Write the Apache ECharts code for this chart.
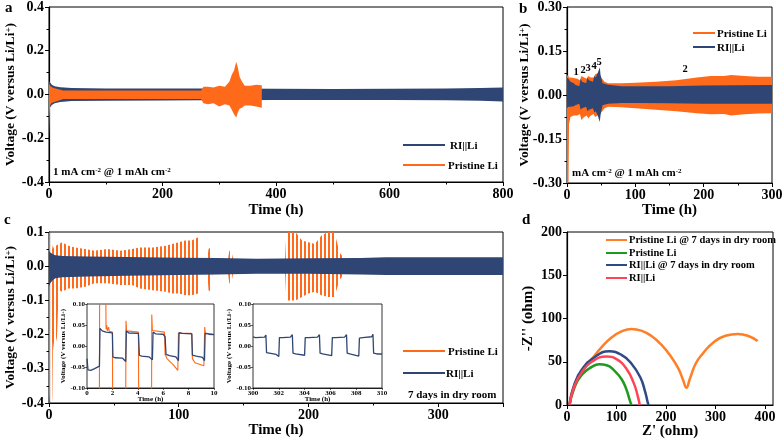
<!DOCTYPE html>
<html>
<head>
<meta charset="utf-8">
<script src="https://cdn.jsdelivr.net/npm/echarts@6/dist/echarts.min.js"></script>
<style>html,body{margin:0;padding:0;background:#fff}#main{width:784px;height:442px}</style>
</head>
<body>
<div id="main"></div>
<script>
var ORANGE = '#ff6a1a';
var NAVY = '#2f4573';
var FONT = 'Liberation Serif';

// ---- panel a : 1 mA cm-2, envelopes of the voltage trace (time h, V)
var aBlueT  = [0, 2, 5, 10, 20, 40, 100, 200, 270, 300, 400, 500, 600, 700, 760, 800];
var aBlueHi = [0.062, 0.055, 0.045, 0.038, 0.033, 0.03, 0.028, 0.028, 0.028, 0.027, 0.026, 0.025, 0.026, 0.028, 0.03, 0.032];
var aBlueLo = [-0.065, -0.058, -0.048, -0.04, -0.034, -0.03, -0.028, -0.027, -0.026, -0.026, -0.025, -0.025, -0.025, -0.026, -0.028, -0.032];
var aOrT  = [0, 1, 2, 4, 8, 15, 25, 50, 100, 200, 268, 272, 280, 290, 300, 310, 318, 322, 326, 330, 333, 336, 340, 345, 355, 365, 375];
var aOrHi = [0.05, 0.045, 0.04, 0.035, 0.03, 0.025, 0.018, 0.018, 0.018, 0.018, 0.018, 0.035, 0.035, 0.032, 0.04, 0.035, 0.06, 0.09, 0.11, 0.15, 0.12, 0.08, 0.06, 0.04, 0.04, 0.045, 0.042];
var aOrLo = [-0.2, -0.1, -0.05, -0.04, -0.035, -0.03, -0.021, -0.021, -0.021, -0.021, -0.021, -0.04, -0.045, -0.04, -0.055, -0.045, -0.05, -0.07, -0.09, -0.105, -0.08, -0.065, -0.06, -0.05, -0.05, -0.055, -0.06];

// ---- panel b
var bBlueT  = [0, 2, 5, 10, 12, 18, 20, 22, 28, 30, 32, 38, 40, 42, 45, 48, 49, 52, 60, 80, 100, 150, 200, 250, 300];
var bBlueHi = [0.06, 0.055, 0.045, 0.04, 0.035, 0.03, 0.055, 0.045, 0.04, 0.06, 0.05, 0.045, 0.065, 0.06, 0.075, 0.095, 0.07, 0.04, 0.035, 0.03, 0.03, 0.03, 0.032, 0.033, 0.034];
var bBlueLo = [-0.045, -0.04, -0.04, -0.038, -0.035, -0.03, -0.05, -0.045, -0.04, -0.055, -0.05, -0.045, -0.06, -0.055, -0.07, -0.092, -0.07, -0.035, -0.03, -0.027, -0.027, -0.028, -0.03, -0.03, -0.03];
var bOrT  = [0, 1, 2, 3, 5, 10, 15, 19, 21, 25, 29, 31, 35, 39, 41, 45, 50, 55, 60, 80, 100, 130, 160, 190, 210, 230, 240, 260, 280, 300];
var bOrHi = [0.065, 0.068, 0.065, 0.06, 0.06, 0.058, 0.055, 0.05, 0.065, 0.06, 0.055, 0.065, 0.06, 0.06, 0.07, 0.075, 0.06, 0.045, 0.04, 0.04, 0.042, 0.045, 0.05, 0.06, 0.065, 0.065, 0.068, 0.065, 0.062, 0.062];
var bOrLo = [-0.35, -0.35, -0.3, -0.1, -0.075, -0.07, -0.07, -0.065, -0.085, -0.075, -0.07, -0.08, -0.07, -0.065, -0.075, -0.07, -0.06, -0.045, -0.04, -0.042, -0.045, -0.05, -0.055, -0.062, -0.066, -0.065, -0.07, -0.066, -0.063, -0.062];

// ---- panel c : 7 days in dry room
var cBlueT  = [0, 1, 3, 5, 10, 30, 60, 100, 130, 160, 200, 240, 260, 300, 350];
var cBlueHi = [0.045, 0.04, 0.035, 0.032, 0.03, 0.028, 0.027, 0.025, 0.024, 0.022, 0.023, 0.024, 0.026, 0.026, 0.026];
var cBlueLo = [-0.06, -0.05, -0.04, -0.035, -0.032, -0.03, -0.028, -0.026, -0.024, -0.022, -0.022, -0.024, -0.026, -0.026, -0.026];
var cOrT  = [0, 0.5, 1.5, 2.5, 3, 4, 5, 6, 7, 8, 10, 15, 20, 28, 35, 45, 55, 64, 70, 80, 90, 95, 100, 105, 110, 115, 116.5, 122, 123, 124.5, 126, 138, 139, 140.5, 142, 182, 183, 190, 195, 200, 205, 210, 215, 220, 224, 228, 350];
var cOrHi = [0.15, 0.12, 0.08, 0.06, 0.05, 0.06, 0.065, 0.06, 0.065, 0.065, 0.07, 0.06, 0.055, 0.05, 0.045, 0.05, 0.045, 0.05, 0.055, 0.055, 0.06, 0.065, 0.07, 0.075, 0.075, 0.085, 0.02, 0.02, 0.05, 0.055, 0.02, 0.02, 0.045, 0.045, 0.02, 0.02, 0.12, 0.12, 0.075, 0.07, 0.065, 0.09, 0.12, 0.12, 0.04, 0.02, 0.02];
var cOrLo = [-0.45, -0.45, -0.3, -0.4, -0.22, -0.25, -0.2, -0.22, -0.12, -0.07, -0.075, -0.065, -0.065, -0.06, -0.05, -0.05, -0.055, -0.055, -0.065, -0.07, -0.075, -0.08, -0.08, -0.085, -0.085, -0.08, -0.02, -0.02, -0.07, -0.075, -0.02, -0.02, -0.05, -0.05, -0.02, -0.02, -0.1, -0.1, -0.09, -0.08, -0.075, -0.085, -0.09, -0.09, -0.04, -0.02, -0.02];

// insets of panel c (time h, V)
var in1Blue = [[0,-0.03],[0.08,-0.057],[0.3,-0.058],[0.6,-0.054],[0.98,-0.048],[1.02,0.042],[1.2,0.036],[1.5,0.033],[2.0,0.031],[2.04,-0.026],[2.2,-0.028],[2.8,-0.029],[3.05,-0.037],[3.1,0.036],[3.3,0.031],[4.05,0.03],[4.12,-0.022],[4.3,-0.024],[4.9,-0.026],[5.15,-0.033],[5.2,0.033],[5.4,0.029],[6.0,0.028],[6.15,0.022],[6.22,-0.02],[6.5,-0.023],[7.0,-0.026],[7.2,-0.035],[7.25,0.032],[7.5,0.03],[8.25,0.029],[8.3,-0.022],[8.6,-0.024],[9.1,-0.027],[9.25,-0.035],[9.3,0.03],[9.6,0.028],[10,0.027]];
var in1Orange = [[0.97,-0.2],[1.0,0.2],[1.46,0.2],[1.5,0.04],[1.55,0.05],[1.6,0.036],[1.7,0.045],[1.75,0.035],[2.0,0.033],[2.03,-0.2],[3.04,-0.2],[3.07,0.06],[3.12,0.036],[4.05,0.033],[4.08,-0.2],[5.08,-0.2],[5.1,0.075],[5.15,0.037],[6.1,0.033],[6.15,-0.02],[6.3,-0.03],[6.8,-0.045],[7.15,-0.058],[7.2,0.03],[8.25,0.03],[8.3,-0.03],[8.5,-0.04],[9.2,-0.047],[9.27,0.045],[9.32,0.031],[10,0.028]];
var in2Blue = [[300,0.022],[300.2,0.02],[300.9,0.021],[301.0,0.026],[301.05,-0.016],[301.2,-0.019],[301.8,-0.02],[302.0,-0.025],[302.05,0.02],[302.3,0.02],[302.9,0.021],[303.05,0.027],[303.1,-0.017],[303.3,-0.019],[304.0,-0.022],[304.05,0.02],[304.3,0.02],[305.0,0.021],[305.15,0.027],[305.2,-0.017],[305.4,-0.019],[306.1,-0.023],[306.15,0.02],[306.4,0.02],[307.1,0.021],[307.25,0.027],[307.3,-0.017],[307.5,-0.019],[308.2,-0.024],[308.25,0.019],[308.5,0.02],[309.2,0.022],[309.3,0.028],[309.35,-0.017],[309.6,-0.019],[310,-0.019]];

// ---- panel d : Nyquist plots (Z', -Z'')
var nyPristine7d = [[5,0],[10,15],[20,28],[35,42],[50,53],[70,67],[90,78],[110,85],[130,88],[150,86],[170,80],[190,70],[210,56],[225,42],[235,28],[241,20],[248,30],[260,48],[275,60],[295,72],[320,80],[345,82],[365,80],[385,74]];
var nyPristine = [[5,0],[15,20],[30,35],[50,44],[65,47],[80,46],[95,40],[110,30],[120,18],[127,5],[130,0]];
var nyRI7d = [[5,0],[15,24],[30,41],[55,55],[85,62],[110,58],[130,48],[148,32],[158,15],[163,3],[165,0]];
var nyRI = [[5,0],[15,22],[30,38],[50,50],[80,56],[100,53],[120,42],[135,25],[143,10],[147,0]];

// tick values
var aTimeTicks = [0, 200, 400, 600, 800];
var aVoltTicks = [-0.4, -0.2, 0, 0.2, 0.4];
var bTimeTicks = [0, 100, 200, 300];
var bVoltTicks = [-0.3, -0.15, 0, 0.15, 0.3];
var cTimeTicks = [0, 100, 200, 300];
var cVoltTicks = [-0.4, -0.3, -0.2, -0.1, 0, 0.1];
var dZreTicks = [0, 100, 200, 300, 400];
var dZimTicks = [0, 50, 100, 150, 200];
var in1TimeTicks = [0, 2, 4, 6, 8, 10];
var in2TimeTicks = [300, 302, 304, 306, 308, 310];
var inVoltTicks = [-0.1, -0.05, 0, 0.05, 0.1];

var chart = echarts.init(document.getElementById('main'));

function stripes(color) {
  var c = document.createElement('canvas');
  c.width = 4; c.height = 4;
  var g = c.getContext('2d');
  g.fillStyle = color;
  g.fillRect(0, 0, 2, 4);
  return { image: c, repeat: 'repeat' };
}

function axis(gi, ticks, o) {
  o = o || {};
  var step = +(ticks[1] - ticks[0]).toFixed(4);
  var small = o.small;
  return {
    type: 'value', gridIndex: gi,
    min: o.min != null ? o.min : ticks[0],
    max: o.max != null ? o.max : ticks[ticks.length - 1],
    interval: step,
    name: o.name || '', nameLocation: 'middle', nameGap: o.gap || 20,
    nameMoveOverlap: false,
    nameTextStyle: {
      fontFamily: FONT, fontWeight: 'bold', fontSize: small ? 7 : (o.nameSize || 15), color: '#000',
      rich: { sup: { fontFamily: FONT, fontWeight: 'bold', fontSize: small ? 5 : 9, verticalAlign: 'top', color: '#000' } }
    },
    axisLine: { show: true, onZero: false, lineStyle: { color: '#000', width: small ? 0.8 : 1.2 } },
    axisTick: { show: true, length: small ? 2 : 4, lineStyle: { color: '#000', width: small ? 0.6 : 1 } },
    minorTick: { show: !small && !o.noMinor, splitNumber: 2, length: 2.5, lineStyle: { color: '#000' } },
    splitLine: { show: false },
    axisLabel: {
      fontFamily: FONT, fontWeight: 'bold', fontSize: small ? 7 : 14, color: '#000',
      margin: small ? 2 : 5, showMaxLabel: o.hideMax ? false : null,
      formatter: o.dec != null ? function (v) { return v.toFixed(o.dec); } : null
    }
  };
}

function band(name, gi, t, hi, lo, fill, z) {
  return {
    type: 'custom', name: name, xAxisIndex: gi, yAxisIndex: gi, z: z, clip: true,
    silent: true,
    data: t.map(function (v, i) { return [v, hi[i], lo[i]]; }),
    encode: { x: 0, y: [1, 2] },
    renderItem: function (params, api) {
      if (params.dataIndex !== 0) return null;
      var cs = params.coordSys;
      var pts = [];
      var clampY = function (p) { return [p[0], Math.max(cs.y, Math.min(cs.y + cs.height, p[1]))]; };
      for (var i = 0; i < t.length; i++) pts.push(clampY(api.coord([t[i], hi[i]])));
      for (var j = t.length - 1; j >= 0; j--) pts.push(clampY(api.coord([t[j], lo[j]])));
      return { type: 'polygon', shape: { points: pts }, style: { fill: fill, stroke: null } };
    }
  };
}

function line(name, gi, data, color, w, z, smooth) {
  return {
    type: 'line', name: name, xAxisIndex: gi, yAxisIndex: gi, data: data, z: z,
    showSymbol: false, smooth: smooth || false, clip: true,
    lineStyle: { color: color, width: w }, itemStyle: { color: color }
  };
}

var vName = 'Voltage (V versus Li/Li{sup|+})';
var bold = function (s) { return 'bold ' + s + 'px "' + FONT + '"'; };

function txt(x, y, s, size, align) {
  return {
    type: 'text', x: x, y: y, z: 50,
    style: { text: s, font: bold(size), fill: '#000', textAlign: align || 'left', textVerticalAlign: 'middle', rich: { sup: { font: bold(Math.round(size * 0.65)), fill: '#000', verticalAlign: 'top' } } }
  };
}
function seg(x1, x2, y, color) {
  return { type: 'line', z: 50, shape: { x1: x1, y1: y, x2: x2, y2: y }, style: { stroke: color, lineWidth: 2 } };
}

function grid(l, t, w, h, inset) {
  return {
    left: l, top: t, width: w, height: h, show: true, borderColor: '#000',
    borderWidth: inset ? 0.8 : 1, backgroundColor: inset ? '#fff' : 'transparent',
    z: inset ? 5 : 0, outerBoundsMode: 'none', containLabel: false
  };
}

var option = {
  animation: false,
  backgroundColor: '#fff',
  grid: [
    grid(49, 7, 454, 175),
    grid(567, 7, 205, 176),
    grid(49, 232, 454, 171),
    grid(567, 232, 206, 173),
    grid(87, 304, 127, 84, true),
    grid(253, 304, 129, 84, true)
  ],
  xAxis: [
    axis(0, aTimeTicks, { name: 'Time (h)', gap: 21 }),
    axis(1, bTimeTicks, { name: 'Time (h)', gap: 20 }),
    axis(2, cTimeTicks, { name: 'Time (h)', gap: 20, max: 350, hideMax: true }),
    axis(3, dZreTicks, { name: "Z' (ohm)", gap: 19, max: 416, hideMax: true, noMinor: true }),
    axis(4, in1TimeTicks, { name: 'Time (h)', gap: 8, small: true }),
    axis(5, in2TimeTicks, { name: 'Time (h)', gap: 8, small: true })
  ],
  yAxis: [
    axis(0, aVoltTicks, { name: vName, gap: 31, dec: 1, nameSize: 13.5 }),
    axis(1, bVoltTicks, { name: vName, gap: 35, dec: 2, nameSize: 13.5 }),
    axis(2, cVoltTicks, { name: vName, gap: 31, dec: 1, nameSize: 13.5 }),
    axis(3, dZimTicks, { name: "-Z'' (ohm)", gap: 31, noMinor: true }),
    axis(4, inVoltTicks, { name: vName, gap: 20, dec: 2, small: true }),
    axis(5, inVoltTicks, { name: vName, gap: 20, dec: 2, small: true })
  ],
  series: [
    band('RI||Li', 0, aBlueT, aBlueHi, aBlueLo, NAVY, 2),
    band('Pristine Li', 0, aOrT, aOrHi, aOrLo, ORANGE, 3),
    band('Pristine Li', 1, bOrT, bOrHi, bOrLo, ORANGE, 2),
    band('RI||Li', 1, bBlueT, bBlueHi, bBlueLo, NAVY, 3),
    band('Pristine Li', 2, cOrT, cOrHi, cOrLo, stripes(ORANGE), 2),
    band('RI||Li', 2, cBlueT, cBlueHi, cBlueLo, NAVY, 3),
    line('Pristine Li', 4, in1Orange, ORANGE, 1.1, 10),
    line('RI||Li', 4, in1Blue, NAVY, 1.3, 11),
    line('RI||Li', 5, in2Blue, NAVY, 1.3, 11),
    line('Pristine Li @ 7 days in dry room', 3, nyPristine7d, '#ff7f27', 2.5, 4, true),
    line('Pristine Li', 3, nyPristine, '#1e9a1e', 2.5, 4, true),
    line('RI||Li @ 7 days in dry room', 3, nyRI7d, '#2f4a86', 2.5, 4, true),
    line('RI||Li', 3, nyRI, '#ff4455', 2.5, 4, true)
  ],
  graphic: [
    txt(5, 8, 'a', 15), txt(519, 9, 'b', 15), txt(4, 220, 'c', 15), txt(522, 220, 'd', 15),
    // panel a
    txt(53, 172, '1 mA cm{sup|-2} @ 1 mAh cm{sup|-2}', 11),
    seg(403, 445, 145, NAVY), txt(450, 146, 'RI||Li', 11),
    seg(403, 445, 165, ORANGE), txt(448, 166, 'Pristine Li', 11),
    // panel b
    txt(572, 173, 'mA cm{sup|-2} @ 1 mAh cm{sup|-2}', 11),
    seg(693, 715, 33, ORANGE), txt(717, 34, 'Pristine Li', 11),
    seg(693, 715, 47, NAVY), txt(717, 48, 'RI||Li', 11),
    txt(576, 72, '1', 10.5, 'center'), txt(583, 70, '2', 10.5, 'center'), txt(588, 68, '3', 10.5, 'center'),
    txt(594, 66, '4', 10.5, 'center'), txt(599, 62, '5', 10.5, 'center'), txt(685, 69, '2', 10.5, 'center'),
    // panel c
    seg(403, 445, 351, ORANGE), txt(448, 352, 'Pristine Li', 11),
    seg(403, 445, 373, NAVY), txt(446, 374, 'RI||Li', 11),
    txt(408, 395, '7 days in dry room', 11),
    // panel d
    seg(606, 627, 240, '#ff7f27'), txt(629, 240, 'Pristine Li @ 7 days in dry room', 10.5),
    seg(606, 627, 253, '#1e9a1e'), txt(629, 253, 'Pristine Li', 10.5),
    seg(606, 627, 265, '#2f4a86'), txt(629, 265, 'RI||Li @ 7 days in dry room', 10.5),
    seg(606, 627, 278, '#ff4455'), txt(629, 278, 'RI||Li', 10.5)
  ]
};

chart.setOption(option);
</script>
</body>
</html>
